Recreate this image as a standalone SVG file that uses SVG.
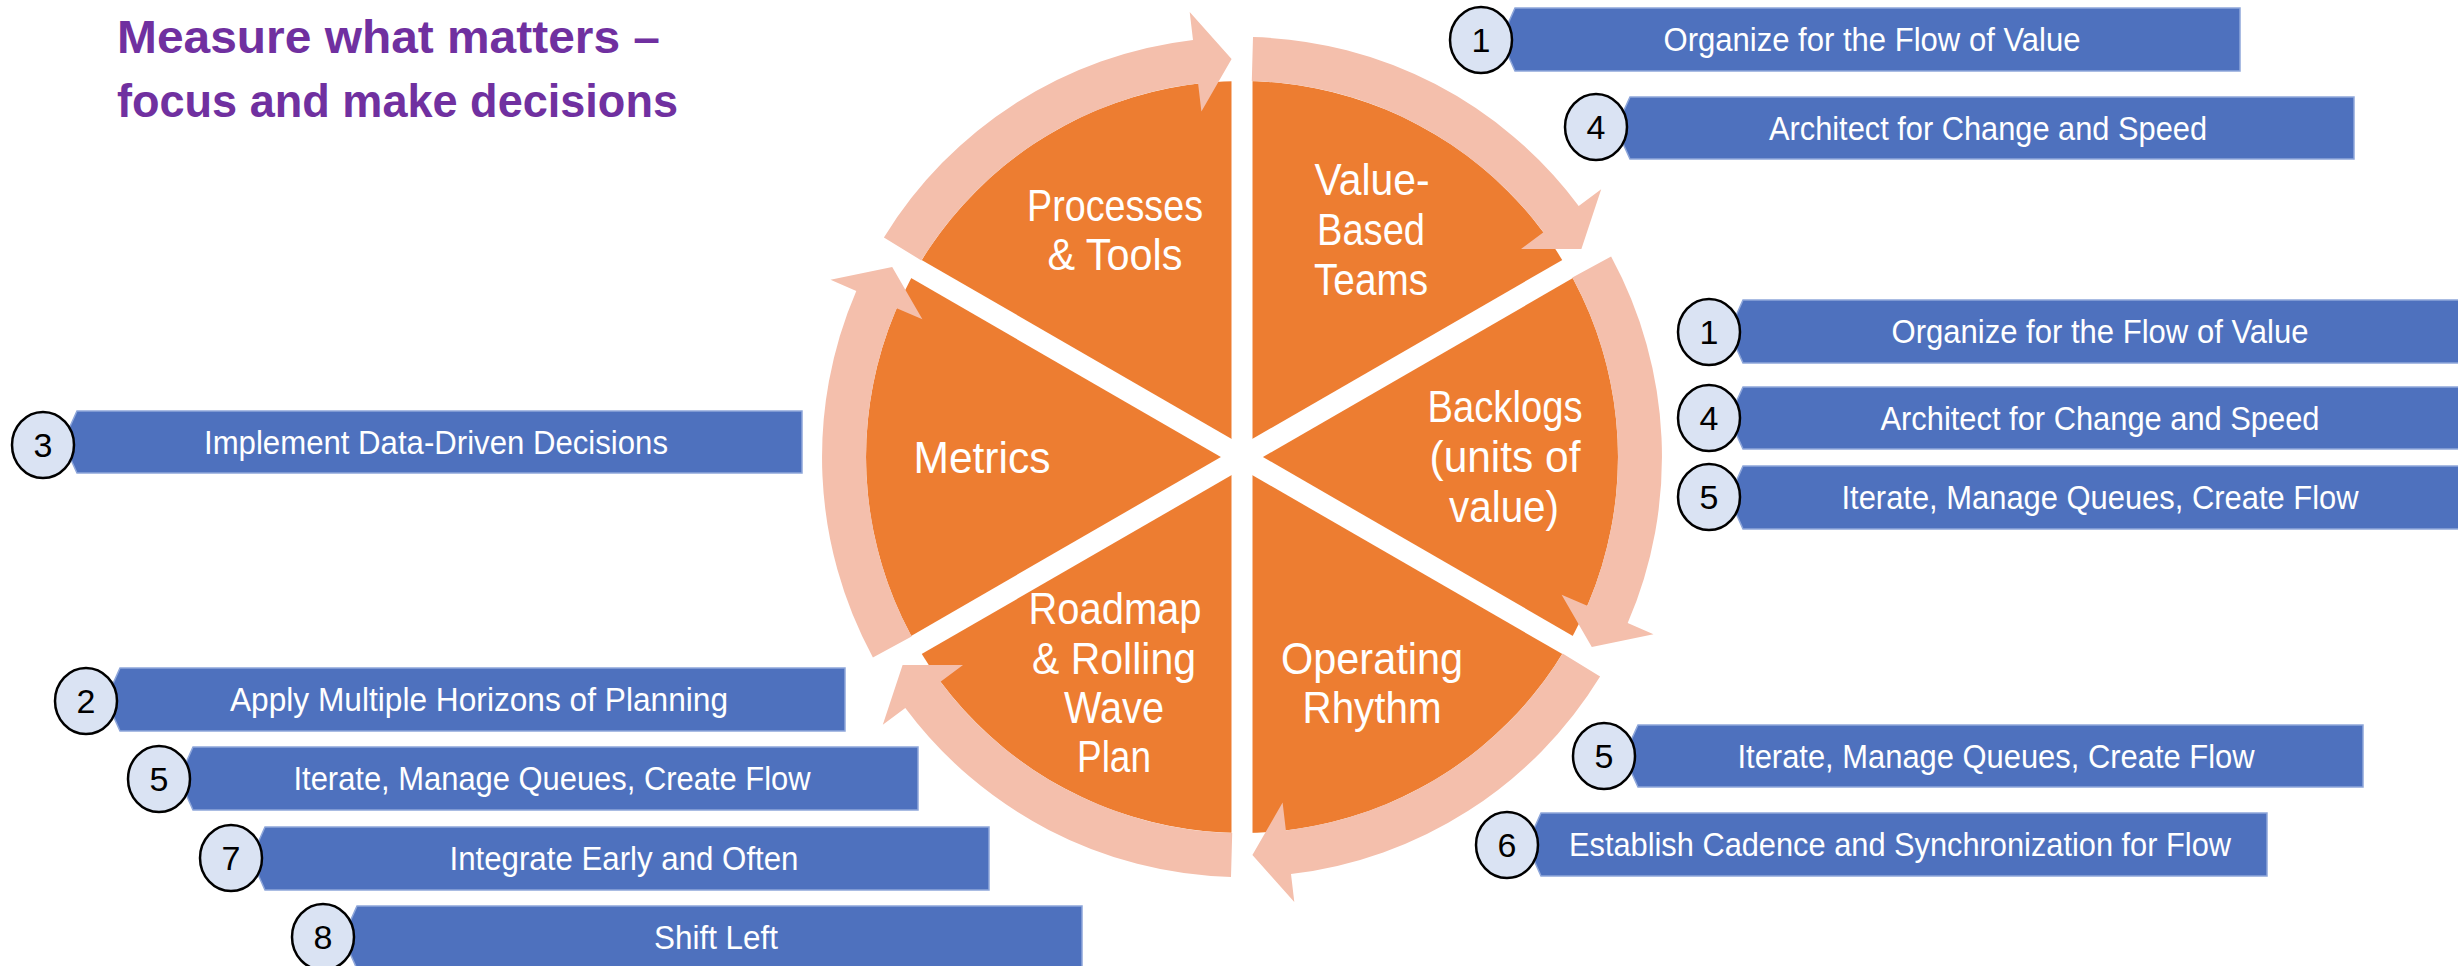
<svg xmlns="http://www.w3.org/2000/svg" width="2458" height="966" viewBox="0 0 2458 966">
<defs>
<style>
text{font-family:"Liberation Sans",Arial,sans-serif}
.title{fill:#7030A0;font-weight:bold;font-size:46px}
.lbl{fill:#FFFFFF;font-size:44px;text-anchor:middle}
.bx{fill:#4E71BE;stroke:#8EA6DA;stroke-width:1.5}
.bt{fill:#FFFFFF;font-size:34px;text-anchor:middle}
.nc{fill:#DAE3F3;stroke:#000000;stroke-width:2.5}
.nt{fill:#000000;font-size:34px;text-anchor:middle}
.arc{fill:#F4BFAC}
.gap{stroke:#FFFFFF;stroke-width:21}
</style>
</defs>
<rect width="2458" height="966" fill="#FFFFFF"/>

<g id="title">
<text class="title" x="117" y="53" textLength="543" lengthAdjust="spacingAndGlyphs">Measure what matters –</text>
<text class="title" x="117" y="117" textLength="561" lengthAdjust="spacingAndGlyphs">focus and make decisions</text>
</g>

<g id="wheel">
<circle cx="1242" cy="457" r="376" fill="#ED7D31"/>
<line class="gap" x1="1242" y1="77" x2="1242" y2="837"/>
<line class="gap" x1="912.9" y1="267" x2="1571.1" y2="647"/>
<line class="gap" x1="912.9" y1="647" x2="1571.1" y2="267"/>
</g>

<g id="connectors">
<path class="arc" d="M1253.0,37.1 A420,420 0 0 1 1578.7,206.0 L1601.2,189.3 L1581.4,249.0 L1521.0,249.0 L1543.5,232.3 A376,376 0 0 0 1251.8,81.1 Z"/>
<path class="arc" d="M1611.1,256.6 A420,420 0 0 1 1627.7,623.1 L1653.5,634.2 L1591.8,646.9 L1561.6,594.7 L1587.3,605.7 A376,376 0 0 0 1572.4,277.6 Z"/>
<path class="arc" d="M1600.1,676.5 A420,420 0 0 1 1291.0,874.1 L1294.3,901.9 L1252.4,854.9 L1282.6,802.6 L1285.9,830.4 A376,376 0 0 0 1562.6,653.5 Z"/>
<path class="arc" d="M1231.0,876.9 A420,420 0 0 1 905.3,708.0 L882.8,724.7 L902.6,665.0 L963.0,665.0 L940.5,681.7 A376,376 0 0 0 1232.2,832.9 Z"/>
<path class="arc" d="M872.9,657.4 A420,420 0 0 1 856.3,290.9 L830.5,279.8 L892.2,267.1 L922.4,319.3 L896.7,308.3 A376,376 0 0 0 911.6,636.4 Z"/>
<path class="arc" d="M883.9,237.5 A420,420 0 0 1 1193.0,39.9 L1189.7,12.1 L1231.6,59.1 L1201.4,111.4 L1198.1,83.6 A376,376 0 0 0 921.4,260.5 Z"/>
</g>

<g id="seg-value-based-teams">
<text class="lbl" x="1372" y="195" textLength="115" lengthAdjust="spacingAndGlyphs">Value-</text>
<text class="lbl" x="1371" y="245" textLength="108" lengthAdjust="spacingAndGlyphs">Based</text>
<text class="lbl" x="1371" y="295" textLength="114" lengthAdjust="spacingAndGlyphs">Teams</text>
</g>
<g id="seg-backlogs">
<text class="lbl" x="1505" y="422" textLength="155" lengthAdjust="spacingAndGlyphs">Backlogs</text>
<text class="lbl" x="1505" y="472" textLength="151" lengthAdjust="spacingAndGlyphs">(units of</text>
<text class="lbl" x="1504" y="522" textLength="110" lengthAdjust="spacingAndGlyphs">value)</text>
</g>
<g id="seg-operating-rhythm">
<text class="lbl" x="1372" y="674" textLength="182" lengthAdjust="spacingAndGlyphs">Operating</text>
<text class="lbl" x="1372" y="723" textLength="139" lengthAdjust="spacingAndGlyphs">Rhythm</text>
</g>
<g id="seg-roadmap">
<text class="lbl" x="1115" y="624" textLength="173" lengthAdjust="spacingAndGlyphs">Roadmap</text>
<text class="lbl" x="1114" y="674" textLength="164" lengthAdjust="spacingAndGlyphs">&amp; Rolling</text>
<text class="lbl" x="1114" y="723" textLength="100" lengthAdjust="spacingAndGlyphs">Wave</text>
<text class="lbl" x="1114" y="772" textLength="74" lengthAdjust="spacingAndGlyphs">Plan</text>
</g>
<g id="seg-metrics">
<text class="lbl" x="982" y="473" textLength="137" lengthAdjust="spacingAndGlyphs">Metrics</text>
</g>
<g id="seg-processes-tools">
<text class="lbl" x="1115" y="221" textLength="176" lengthAdjust="spacingAndGlyphs">Processes</text>
<text class="lbl" x="1115" y="270" textLength="135" lengthAdjust="spacingAndGlyphs">&amp; Tools</text>
</g>

<g id="box-a1">
<polygon class="bx" points="1515,8 2240,8 2240,71 1515,71 1501,39.5"/>
<ellipse class="nc" cx="1481" cy="40" rx="31" ry="33"/>
<text class="nt" x="1481" y="52">1</text>
<text class="bt" x="1872" y="51" textLength="417" lengthAdjust="spacingAndGlyphs">Organize for the Flow of Value</text>
</g>
<g id="box-a4">
<polygon class="bx" points="1630,97 2354,97 2354,159 1630,159 1616,128"/>
<ellipse class="nc" cx="1596" cy="127" rx="31" ry="33"/>
<text class="nt" x="1596" y="139">4</text>
<text class="bt" x="1988" y="140" textLength="438" lengthAdjust="spacingAndGlyphs">Architect for Change and Speed</text>
</g>
<g id="box-b1">
<polygon class="bx" points="1743,300 2470,300 2470,363 1743,363 1729,331.5"/>
<ellipse class="nc" cx="1709" cy="332" rx="31" ry="33"/>
<text class="nt" x="1709" y="344">1</text>
<text class="bt" x="2100" y="343" textLength="417" lengthAdjust="spacingAndGlyphs">Organize for the Flow of Value</text>
</g>
<g id="box-b4">
<polygon class="bx" points="1743,387 2470,387 2470,449 1743,449 1729,418"/>
<ellipse class="nc" cx="1709" cy="418" rx="31" ry="33"/>
<text class="nt" x="1709" y="430">4</text>
<text class="bt" x="2100" y="430" textLength="439" lengthAdjust="spacingAndGlyphs">Architect for Change and Speed</text>
</g>
<g id="box-b5">
<polygon class="bx" points="1743,466 2470,466 2470,529 1743,529 1729,497.5"/>
<ellipse class="nc" cx="1709" cy="497" rx="31" ry="33"/>
<text class="nt" x="1709" y="509">5</text>
<text class="bt" x="2100" y="509" textLength="517" lengthAdjust="spacingAndGlyphs">Iterate, Manage Queues, Create Flow</text>
</g>
<g id="box-c5">
<polygon class="bx" points="1638,725 2363,725 2363,787 1638,787 1624,756"/>
<ellipse class="nc" cx="1604" cy="756" rx="31" ry="33"/>
<text class="nt" x="1604" y="768">5</text>
<text class="bt" x="1996" y="768" textLength="517" lengthAdjust="spacingAndGlyphs">Iterate, Manage Queues, Create Flow</text>
</g>
<g id="box-c6">
<polygon class="bx" points="1541,813 2267,813 2267,876 1541,876 1527,844.5"/>
<ellipse class="nc" cx="1507" cy="845" rx="31" ry="33"/>
<text class="nt" x="1507" y="857">6</text>
<text class="bt" x="1900" y="856" textLength="662" lengthAdjust="spacingAndGlyphs">Establish Cadence and Synchronization for Flow</text>
</g>
<g id="box-d3">
<polygon class="bx" points="77,411 802,411 802,473 77,473 63,442"/>
<ellipse class="nc" cx="43" cy="445" rx="31" ry="33"/>
<text class="nt" x="43" y="457">3</text>
<text class="bt" x="436" y="454" textLength="464" lengthAdjust="spacingAndGlyphs">Implement Data-Driven Decisions</text>
</g>
<g id="box-d2">
<polygon class="bx" points="120,668 845,668 845,731 120,731 106,699.5"/>
<ellipse class="nc" cx="86" cy="701" rx="31" ry="33"/>
<text class="nt" x="86" y="713">2</text>
<text class="bt" x="479" y="711" textLength="498" lengthAdjust="spacingAndGlyphs">Apply Multiple Horizons of Planning</text>
</g>
<g id="box-d5">
<polygon class="bx" points="193,747 918,747 918,810 193,810 179,778.5"/>
<ellipse class="nc" cx="159" cy="779" rx="31" ry="33"/>
<text class="nt" x="159" y="791">5</text>
<text class="bt" x="552" y="790" textLength="517" lengthAdjust="spacingAndGlyphs">Iterate, Manage Queues, Create Flow</text>
</g>
<g id="box-d7">
<polygon class="bx" points="265,827 989,827 989,890 265,890 251,858.5"/>
<ellipse class="nc" cx="231" cy="858" rx="31" ry="33"/>
<text class="nt" x="231" y="870">7</text>
<text class="bt" x="624" y="870" textLength="349" lengthAdjust="spacingAndGlyphs">Integrate Early and Often</text>
</g>
<g id="box-d8">
<polygon class="bx" points="357,906 1082,906 1082,969 357,969 343,937.5"/>
<ellipse class="nc" cx="323" cy="937" rx="31" ry="33"/>
<text class="nt" x="323" y="949">8</text>
<text class="bt" x="716" y="949" textLength="124" lengthAdjust="spacingAndGlyphs">Shift Left</text>
</g>
</svg>
